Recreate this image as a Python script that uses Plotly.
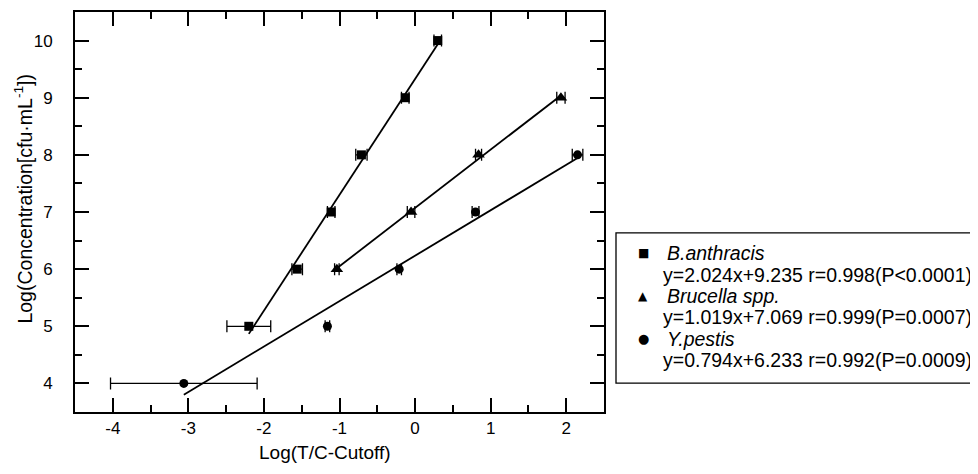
import numpy as np
import plotly.graph_objects as go

# ---- data ----
ba_x = [-2.20, -1.56, -1.11, -0.71, -0.13, 0.30]
ba_y = [5, 6, 7, 8, 9, 10]
ba_err = [0.29, 0.07, 0.05, 0.075, 0.05, 0.05]

br_x = [-1.035, -0.053, 0.84, 1.93]
br_y = [6, 7, 8, 9]
br_err = [0.03, 0.05, 0.04, 0.055]

yp_x = [-3.06, -1.16, -0.21, 0.80, 2.15]
yp_y = [4, 5, 6, 7, 8]
yp_err = [0.97, 0.03, 0.03, 0.045, 0.07]

names = ["B.anthracis", "Brucella spp.", "Y.pestis"]
equations = [
    "y=2.024x+9.235 r=0.998(P<0.0001)",
    "y=1.019x+7.069 r=0.999(P=0.0007)",
    "y=0.794x+6.233 r=0.992(P=0.0009)",
]
symbols = ["square", "triangle-up", "circle"]
legend_glyphs = ["■", "▲", "●"]

x_ticks = [-4, -3, -2, -1, 0, 1, 2]
y_ticks = [4, 5, 6, 7, 8, 9, 10]

x_title = "Log(T/C-Cutoff)"
y_title = "Log(Concentration[cfu·mL<sup>-1</sup>])"

FONT = "Liberation Sans, Arial, sans-serif"

# page body has an 8px margin; compensate so the plot lands where the reference has it
PLOT_W, PLOT_H = 529, 402
ML, MT = 67, 2
W, H = 970, 466


def px_to_paper_x(sx):
    return (sx - 75) / PLOT_W


def px_to_paper_y(sy):
    return (412 - sy) / PLOT_H


fig = go.Figure()
series = [(ba_x, ba_y, ba_err), (br_x, br_y, br_err), (yp_x, yp_y, yp_err)]
marker_sizes = [9, 11, 9]
for (xs, ys, es), nm, sym, ms in zip(series, names, symbols, marker_sizes):
    xs_a = np.array(xs)
    ys_a = np.array(ys)
    k, b = np.polyfit(xs_a, ys_a, 1)
    lx = np.array([xs_a.min(), xs_a.max()])
    fig.add_trace(go.Scatter(
        x=lx, y=k * lx + b, mode="lines",
        line=dict(color="black", width=1.8), showlegend=False, hoverinfo="skip"))
    fig.add_trace(go.Scatter(
        x=xs, y=ys, mode="markers", name=nm, showlegend=False,
        marker=dict(symbol=sym, size=ms, color="black"),
        error_x=dict(type="data", array=es, symmetric=True, color="black",
                     thickness=1.3, width=6),
    ))

axis_common = dict(
    showline=True, linecolor="black", linewidth=1.8, mirror="allticks",
    ticks="inside", ticklen=14, tickwidth=1.5, tickcolor="black",
    showgrid=False, zeroline=False,
    tickfont=dict(family=FONT, size=17, color="black"),
)

fig.update_xaxes(
    range=[-4.5, 2.5], tickvals=x_ticks, ticktext=[str(v) for v in x_ticks],
    minor=dict(dtick=0.5, ticks="inside", ticklen=7, tickwidth=1.5, tickcolor="black"),
    **axis_common)
fig.update_yaxes(
    range=[3.5, 10.5], tickvals=y_ticks, ticktext=[str(v) for v in y_ticks],
    minor=dict(dtick=0.5, ticks="inside", ticklen=7, tickwidth=1.5, tickcolor="black"),
    ticklabelstandoff=17,
    **axis_common)

annotations = []
# axis titles
annotations.append(dict(
    text=x_title, xref="paper", yref="paper",
    x=px_to_paper_x(324.5), y=px_to_paper_y(453), xanchor="center", yanchor="middle",
    showarrow=False, font=dict(family=FONT, size=19, color="black")))
annotations.append(dict(
    text=y_title, xref="paper", yref="paper", textangle=-90,
    x=px_to_paper_x(23), y=px_to_paper_y(197.5), xanchor="center", yanchor="middle",
    showarrow=False, font=dict(family=FONT, size=19.5, color="black")))

# legend (box, symbols, names, equations)
row0 = 252.5
row_step = 21.5
for i, (g, nm, eq) in enumerate(zip(legend_glyphs, names, equations)):
    y_name = row0 + 2 * i * row_step
    y_eq = y_name + row_step
    annotations.append(dict(
        text=g, xref="paper", yref="paper", x=px_to_paper_x(643), y=px_to_paper_y(y_name),
        xanchor="center", yanchor="middle", showarrow=False,
        font=dict(family="DejaVu Sans", size=12 if i != 2 else 13, color="black")))
    annotations.append(dict(
        text="<i>" + nm + "</i>", xref="paper", yref="paper",
        x=px_to_paper_x(665), y=px_to_paper_y(y_name),
        xanchor="left", yanchor="middle", showarrow=False,
        font=dict(family=FONT, size=19.5, color="black")))
    annotations.append(dict(
        text=eq, xref="paper", yref="paper",
        x=px_to_paper_x(661), y=px_to_paper_y(y_eq),
        xanchor="left", yanchor="middle", showarrow=False,
        font=dict(family=FONT, size=19.5, color="black")))

shapes = [dict(
    type="rect", xref="paper", yref="paper",
    x0=px_to_paper_x(616), x1=px_to_paper_x(995),
    y0=px_to_paper_y(383), y1=px_to_paper_y(232),
    line=dict(color="black", width=1.3), fillcolor="rgba(0,0,0,0)")]

fig.update_layout(
    width=W, height=H,
    margin=dict(l=ML, r=W - ML - PLOT_W, t=MT, b=H - MT - PLOT_H),
    paper_bgcolor="white", plot_bgcolor="white",
    font=dict(family=FONT, size=18, color="black"),
    showlegend=False,
    annotations=annotations,
    shapes=shapes,
)

fig.write_html("out.html")
